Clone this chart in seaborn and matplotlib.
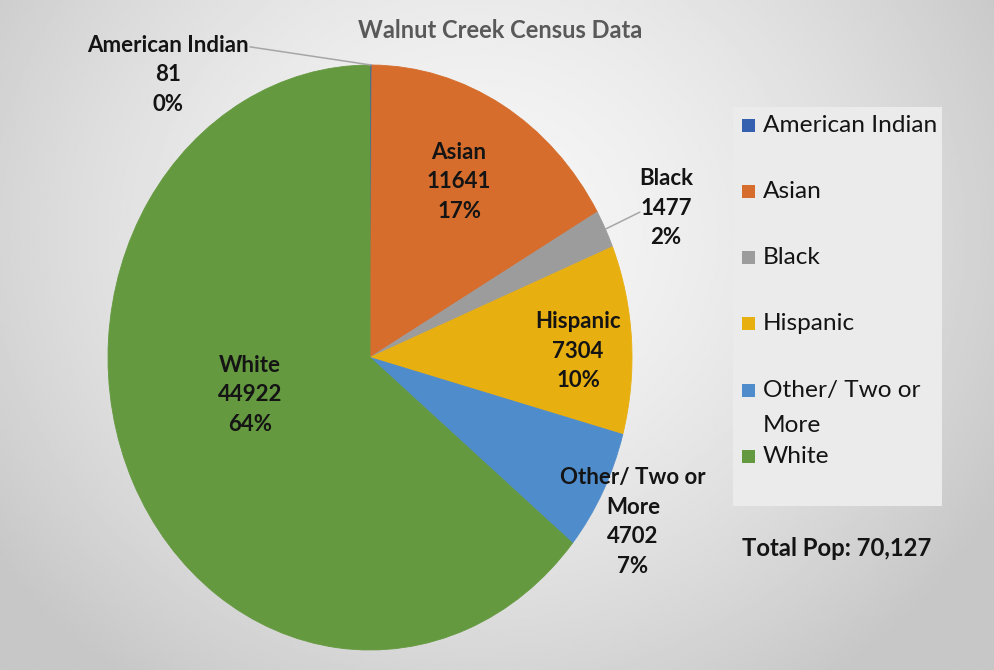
import numpy as np
import matplotlib
matplotlib.use("Agg")
import matplotlib.pyplot as plt
from matplotlib.patches import Rectangle
import seaborn as sns

# Data
categories = ["American Indian", "Asian", "Black", "Hispanic", "Other/ Two or\nMore", "White"]
population = [81, 11641, 1477, 7304, 4702, 44922]
percent_labels = ["0%", "17%", "2%", "10%", "7%", "64%"]
slice_colors = ["#3560B0", "#D66D2C", "#9C9C9C", "#E8AF10", "#4F8CCB", "#64993F"]

sns.set_style("white")
plt.rcParams["font.family"] = ["Lato", "DejaVu Sans"]

W, H = 995, 670
fig = plt.figure(figsize=(W / 100, H / 100), dpi=100)

# Background gradient
bg = fig.add_axes([0, 0, 1, 1], zorder=-10)
yy, xx = np.mgrid[0:1:300j, 0:1:400j]
d = np.sqrt(((xx - 0.48) / 0.55) ** 2 + ((yy - 0.35) / 0.75) ** 2)
shade = np.clip(0.965 - 0.16 * d ** 1.6, 0.78, 1)
bg.imshow(shade, cmap="gray", vmin=0, vmax=1, aspect="auto", extent=[0, 1, 1, 0])
bg.axis("off")


def px_axes(x0, y0, x1, y1, **kw):
    return fig.add_axes([x0 / W, 1 - y1 / H, (x1 - x0) / W, (y1 - y0) / H], **kw)


# Pie (slightly stretched vertically like the source image)
ax = px_axes(108, 65, 632, 650)
palette = sns.color_palette(slice_colors)
wedges, _ = ax.pie(population, colors=palette, startangle=90, counterclock=False,
                   wedgeprops=dict(linewidth=0.6))
for w in wedges:
    w.set_edgecolor(w.get_facecolor())
ax.set_aspect("auto")
ax.set_xlim(-1, 1)
ax.set_ylim(-1, 1)
ax.set_position([108 / W, 1 - 650 / H, 524 / W, 585 / H])

# Data label positions (axes data units)
label_pos = [(-0.771, 0.966), (0.340, 0.600), (1.130, 0.511),
             (0.794, 0.022), (1.004, -0.562), (-0.458, -0.128)]
for cat, val, pct, (lx, ly) in zip(categories, population, percent_labels, label_pos):
    ax.text(lx, ly, f"{cat}\n{val}\n{pct}", ha="center", va="center",
            fontsize=16, fontweight="bold", color="#141414",
            linespacing=1.5, clip_on=False)

# Leader lines for the small slices
for idx, (sx, sy) in [(0, (-0.458, 1.062)), (2, (1.030, 0.497))]:
    w = wedges[idx]
    mid = np.deg2rad((w.theta1 + w.theta2) / 2)
    ax.plot([np.cos(mid), sx], [np.sin(mid), sy], color="#A6A6A6", lw=1.1, clip_on=False)

# Title
fig.text(500 / W, 1 - 31 / H, "Walnut Creek Census Data", ha="center", va="center",
         fontsize=17, fontweight="bold", color="#595959")

# Legend box
lg = px_axes(733, 107, 942, 506)
lg.set_facecolor("#EBEBEB")
lg.set_xlim(0, 209)
lg.set_ylim(399, 0)
for s in lg.spines.values():
    s.set_visible(False)
lg.set_xticks([])
lg.set_yticks([])
for i, (cat, col) in enumerate(zip(categories, palette)):
    yc = 18 + i * 66.3
    lg.add_patch(Rectangle((9, yc - 6.5), 13, 13, facecolor=col, edgecolor="none"))
    for j, line in enumerate(cat.split("\n")):
        lg.text(30, yc + j * 35, line, ha="left", va="center",
                fontsize=17.6, color="#141414")

fig.text(742 / W, 1 - 548 / H, f"Total Pop: {sum(population):,}", ha="left", va="center",
         fontsize=17.2, fontweight="bold", color="#141414")

fig.savefig("out.png", dpi=100)
